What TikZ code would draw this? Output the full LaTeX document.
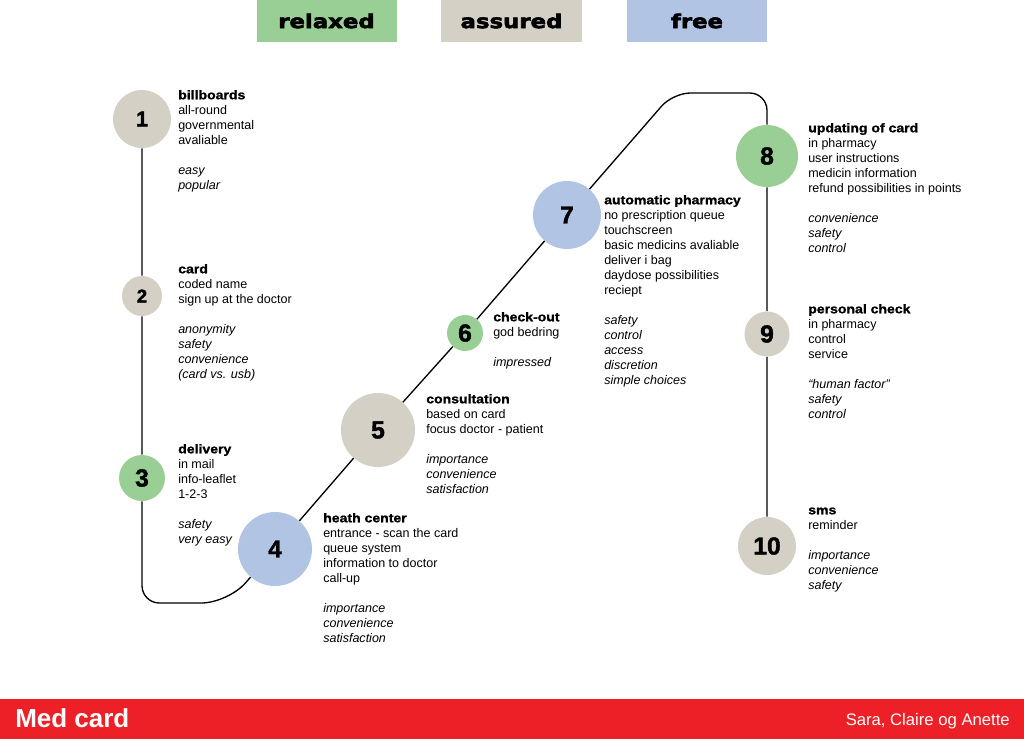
\documentclass[tikz,border=0pt]{standalone}
\usepackage{fontspec}
\setmainfont{Liberation Sans}
\newfontfamily\hdfont[FakeStretch=1.12,FakeBold=1.2]{Liberation Sans Bold}
\newfontfamily\numfont[FakeBold=1.6]{Liberation Sans Bold}
\newfontfamily\tagfont[FakeStretch=1.2,FakeBold=3]{DejaVu Sans Bold}
\usepackage{tikz}
\definecolor{relaxedcol}{HTML}{99CF94}
\definecolor{assuredcol}{HTML}{D5D0C6}
\definecolor{freecol}{HTML}{B1C4E4}
\definecolor{medred}{HTML}{ED2027}
\newcommand{\hd}[1]{\strut{\hdfont #1}}

\begin{document}
\begin{tikzpicture}[x=0.75pt,y=-0.75pt]
\tikzstyle{mystop} = [circle, inner sep = 0 pt, font = \numfont\fontsize{18.5}{20}\selectfont]
\tikzstyle{mytext} = [anchor = north west, align = left, inner sep = 0 pt, font = \fontsize{9.4}{11.25}\selectfont]
\tikzstyle{mytag} = [minimum width = 105 pt, minimum height = 31.5 pt, inner sep = 0 pt, font = \tagfont\fontsize{14.25}{16}\selectfont]
\useasboundingbox (0,0) rectangle (1024,739);

% legend
\node[mytag, fill = relaxedcol] (lg1) at (326.5,21) {relaxed};
\node[mytag, fill = assuredcol, minimum width = 105.75 pt] (lg2) at (511.5,21) {assured};
\node[mytag, fill = freecol] (lg3) at (697,21) {free};

% stops
\node[mystop, fill = assuredcol, minimum size = 43.5 pt, font = \numfont\fontsize{16}{18}\selectfont] (n1) at (142,119) {1};
\node[mystop, fill = assuredcol, minimum size = 30 pt, font = \numfont\fontsize{14}{16}\selectfont] (n2) at (142,296) {2};
\node[mystop, fill = relaxedcol, minimum size = 34.5 pt] (n3) at (142,478) {3};
\node[mystop, fill = freecol, minimum size = 55.5 pt] (n4) at (275,549) {4};
\node[mystop, fill = assuredcol, minimum size = 55.5 pt] (n5) at (378,430) {5};
\node[mystop, fill = relaxedcol, minimum size = 27 pt] (n6) at (465,333) {6};
\node[mystop, fill = freecol, minimum size = 51 pt] (n7) at (567,215) {7};
\node[mystop, fill = relaxedcol, minimum size = 46.5 pt] (n8) at (767,156) {8};
\node[mystop, fill = assuredcol, minimum size = 33.75 pt] (n9) at (767,334) {9};
\node[mystop, fill = assuredcol, minimum size = 43.5 pt] (n10) at (767,546) {10};

\coordinate (cBL) at (142,603);
\coordinate (cBR) at (228,603);
\coordinate (cTL) at (673,93);
\coordinate (cTR) at (767,93);

% route
\draw[line width = 1 pt, rounded corners = 13 pt] (n1) -- (n2) -- (n3) -- (cBL) [rounded corners = 20 pt] -- (cBR) -- (n4) -- (n5) -- (n6) -- (n7) [rounded corners = 13 pt] -- (cTL) -- (cTR) -- (n8) -- (n9) -- (n10);

% texts
\node[mytext] (t1) at (178,88.5) {\hd{billboards}\\all-round\\governmental\\avaliable\\[11.25pt]\textit{easy}\\\textit{popular}};
\node[mytext] (t2) at (178,262.5) {\hd{card}\\coded name\\sign up at the doctor\\[11.25pt]\textit{anonymity}\\\textit{safety}\\\textit{convenience}\\\textit{(card vs. usb)}};
\node[mytext] (t3) at (178,442.5) {\hd{delivery}\\in mail\\info-leaflet\\1-2-3\\[11.25pt]\textit{safety}\\\textit{very easy}};
\node[mytext] (t4) at (323,511.5) {\hd{heath center}\\entrance - scan the card\\queue system\\information to doctor\\call-up\\[11.25pt]\textit{importance}\\\textit{convenience}\\\textit{satisfaction}};
\node[mytext] (t5) at (426,392.5) {\hd{consultation}\\based on card\\focus doctor - patient\\[11.25pt]\textit{importance}\\\textit{convenience}\\\textit{satisfaction}};
\node[mytext] (t6) at (493,310.5) {\hd{check-out}\\god bedring\\[11.25pt]\textit{impressed}};
\node[mytext] (t7) at (604,193.5) {\hd{automatic pharmacy}\\no prescription queue\\touchscreen\\basic medicins avaliable\\deliver i bag\\daydose possibilities\\reciept\\[11.25pt]\textit{safety}\\\textit{control}\\\textit{access}\\\textit{discretion}\\\textit{simple choices}};
\node[mytext] (t8) at (808,121.5) {\hd{updating of card}\\in pharmacy\\user instructions\\medicin information\\refund possibilities in points\\[11.25pt]\textit{convenience}\\\textit{safety}\\\textit{control}};
\node[mytext] (t9) at (808,302.5) {\hd{personal check}\\in pharmacy\\control\\service\\[11.25pt]\textit{“human factor”}\\\textit{safety}\\\textit{control}};
\node[mytext] (t10) at (808,503.5) {\hd{sms}\\reminder\\[11.25pt]\textit{importance}\\\textit{convenience}\\\textit{safety}};

% footer
\fill[medred] (0,699) rectangle (1024,739);
\node[anchor = base west, inner sep = 0 pt, text = white, font = \bfseries\fontsize{19.5}{22}\selectfont] (title) at (15,727) {Med card};
\node[anchor = base east, inner sep = 0 pt, text = white, font = \fontsize{12.5}{14}\selectfont] (authors) at (1010,725) {Sara, Claire og Anette};
\end{tikzpicture}
\end{document}
